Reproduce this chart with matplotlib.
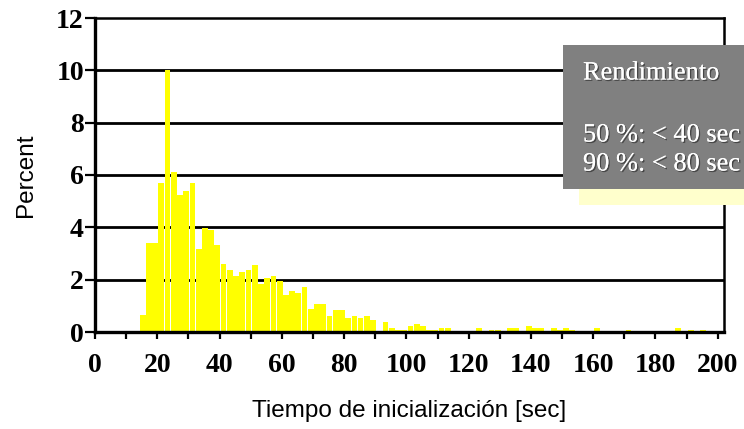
import matplotlib

matplotlib.use("Agg")
import matplotlib.pyplot as plt
import matplotlib.patheffects as pe
from matplotlib.patches import Rectangle

# histogram of start-up time, 2 s bins from 0 to 200
bin_start = list(range(0, 200, 2))
percent = [
    0.03, 0.03, 0.03, 0.03, 0.03, 0.03, 0.03, 0.66, 3.40, 3.40,   # 0-18
    5.68, 10.03, 6.10, 5.25, 5.39, 5.68, 3.17, 3.97, 3.91, 3.31,  # 20-38
    2.59, 2.36, 2.14, 2.29, 2.36, 2.57, 1.85, 2.05, 2.14, 1.94,   # 40-58
    1.42, 1.57, 1.50, 1.73, 0.89, 1.07, 1.07, 0.61, 0.83, 0.83,   # 60-78
    0.53, 0.61, 0.53, 0.61, 0.45, 0.03, 0.39, 0.15, 0.09, 0.09,   # 80-98
    0.23, 0.30, 0.23, 0.09, 0.09, 0.15, 0.15, 0.03, 0.03, 0.03,   # 100-118
    0.03, 0.15, 0.03, 0.09, 0.09, 0.03, 0.15, 0.15, 0.03, 0.23,   # 120-138
    0.15, 0.15, 0.03, 0.15, 0.09, 0.15, 0.09, 0.03, 0.03, 0.03,   # 140-158
    0.15, 0.03, 0.03, 0.03, 0.03, 0.09, 0.03, 0.03, 0.03, 0.03,   # 160-178
    0.03, 0.03, 0.03, 0.15, 0.03, 0.09, 0.03, 0.09, 0.03, 0.03,   # 180-198
]
x_ticks = list(range(0, 201, 10))
x_ticklabels = [str(t) if t % 20 == 0 else "" for t in x_ticks]
y_ticks = [0, 2, 4, 6, 8, 10, 12]

box_title = "Rendimiento"
box_lines = ["50 %: < 40 sec", "90 %: < 80 sec"]

W, H = 744, 429
fig = plt.figure(figsize=(W / 100, H / 100), dpi=100, facecolor="white")
ax = fig.add_axes([95 / W, 1 - 332 / H, (724 - 95) / W, (332 - 18) / H])

centers = [b + 1.3 for b in bin_start]
ax.bar(centers, percent, width=1.85, color="#ffff00", edgecolor="none", zorder=2)

ax.set_xlim(0, 202)
ax.set_ylim(0, 12)
ax.set_yticks(y_ticks)
ax.set_xticks(x_ticks)
ax.set_xticklabels(x_ticklabels)
for y in y_ticks[1:-1]:
    ax.axhline(y, color="black", linewidth=2.0, zorder=1)

for lab in ax.get_xticklabels() + ax.get_yticklabels():
    lab.set_fontfamily("Liberation Serif")
    lab.set_fontweight("bold")
    lab.set_fontsize(20)
ax.tick_params(axis="x", direction="out", length=5, width=1.6, pad=10, colors="black")
ax.tick_params(axis="y", direction="out", length=7, width=1.6, pad=1, colors="black")

ax.spines["left"].set_linewidth(2.4)
ax.spines["bottom"].set_linewidth(2.4)
ax.spines["top"].set_linewidth(1.8)
ax.spines["right"].set_linewidth(1.8)

ax.set_ylabel("Percent", family="Liberation Sans", fontsize=17.5, labelpad=14)
ax.set_xlabel("Tiempo de inicialización [sec]", family="Liberation Sans", fontsize=17.5, labelpad=16)

# shaded callout box, pale shadow offset down-right, cut by the figure edge
fig.patches.append(Rectangle((579 / W, 1 - 205 / H), (W - 579) / W, 160 / H,
                             transform=fig.transFigure, facecolor="#ffffcc",
                             edgecolor="none", zorder=5))
fig.patches.append(Rectangle((563 / W, 1 - 189 / H), (W - 563) / W, 144 / H,
                             transform=fig.transFigure, facecolor="#808080",
                             edgecolor="none", zorder=6))
shadow = [pe.withSimplePatchShadow(offset=(1, -1), shadow_rgbFace="#404040", alpha=0.9), pe.Normal()]
fig.text(583 / W, 1 - 79.5 / H, box_title, family="Liberation Serif", fontsize=19,
         color="white", va="baseline", ha="left", zorder=7, path_effects=shadow)
for i, line in enumerate(box_lines):
    fig.text(583 / W, 1 - (141.5 + 29 * i) / H, line, family="Liberation Serif", fontsize=19,
             color="white", va="baseline", ha="left", zorder=7, path_effects=shadow)

fig.savefig("out.png", dpi=100, facecolor="white")
